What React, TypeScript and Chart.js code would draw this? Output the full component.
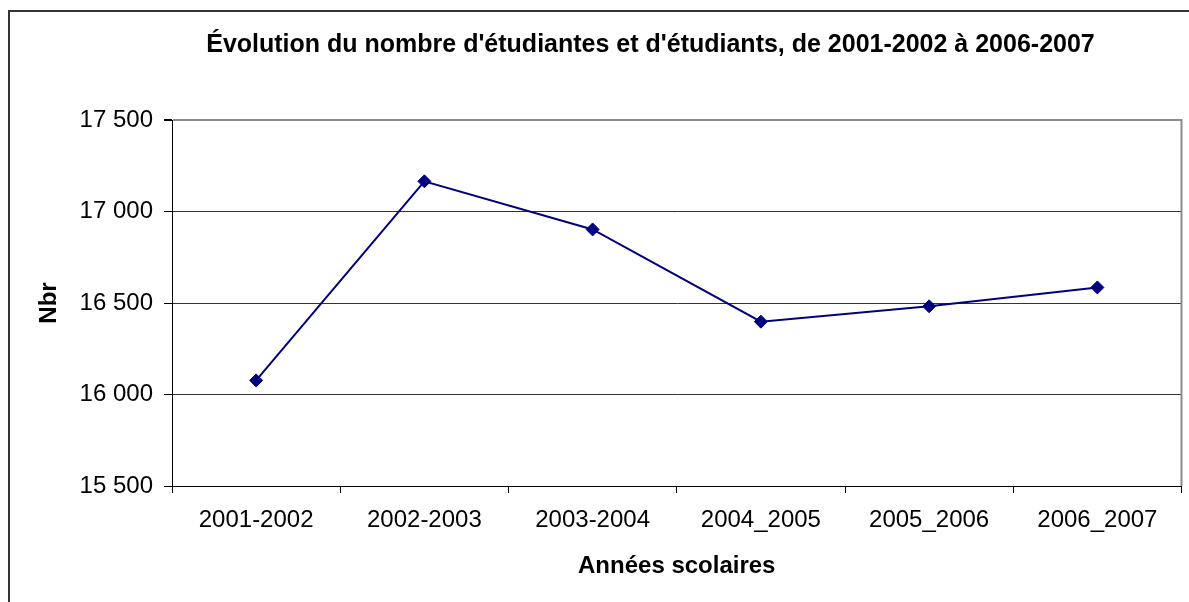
import React, { useEffect, useRef } from "react";
import { Chart, registerables } from "chart.js";

Chart.register(...registerables);

const categories = ["2001-2002", "2002-2003", "2003-2004", "2004_2005", "2005_2006", "2006_2007"];
const students = [16077, 17165, 16902, 16398, 16482, 16585];
const yMin = 15500;
const yMax = 17500;
const yStep = 500;
const titleText = "Évolution du nombre d'étudiantes et d'étudiants, de 2001-2002 à 2006-2007";
const xTitleText = "Années scolaires";
const yTitleText = "Nbr";

const FONT = "'Liberation Sans', Arial, sans-serif";
const W = 1189;
const H = 602;

const fmt = (v: number) => String(v).replace(/\B(?=(\d{3})+(?!\d))/g, " ");

const framePlugin = {
  id: "frame",
  beforeDatasetsDraw(chart: any) {
    const { ctx, chartArea: a } = chart;
    ctx.save();
    ctx.strokeStyle = "#8c8c8c";
    ctx.lineWidth = 2;
    ctx.beginPath();
    ctx.moveTo(a.right, a.top - 1);
    ctx.lineTo(a.right, a.bottom);
    ctx.stroke();
    ctx.restore();
  },
  afterDraw(chart: any) {
    const { ctx } = chart;
    ctx.save();
    ctx.font = `bold 25px ${FONT}`;
    ctx.fillStyle = "#000";
    ctx.textAlign = "center";
    ctx.textBaseline = "middle";
    ctx.fillText(titleText, 650.5, 45);
    ctx.restore();
  },
};

export default function App() {
  const ref = useRef<HTMLCanvasElement | null>(null);

  useEffect(() => {
    if (!ref.current) return;
    const chart = new Chart(ref.current, {
      type: "line",
      data: {
        labels: categories,
        datasets: [
          {
            label: "Nbr",
            data: students,
            borderColor: "#000080",
            backgroundColor: "#000080",
            borderWidth: 2,
            pointStyle: "rectRot",
            pointRadius: 6.5,
            pointBorderWidth: 1,
            pointBackgroundColor: "#000080",
            pointBorderColor: "#000080",
            tension: 0,
            fill: false,
          },
        ],
      },
      options: {
        responsive: false,
        animation: false,
        devicePixelRatio: 1,
        layout: { padding: { left: 0, right: 5, top: 120, bottom: 0 } },
        plugins: {
          legend: { display: false },
          title: { display: false },
          tooltip: { enabled: false },
        },
        scales: {
          x: {
            type: "category",
            offset: true,
            afterFit: (s: any) => {
              s.height = 116;
            },
            grid: {
              display: true,
              offset: true,
              drawOnChartArea: false,
              drawTicks: true,
              tickLength: 7,
              tickColor: "#000",
              color: "#000",
            },
            border: { display: true, color: "#000", width: 1 },
            ticks: {
              color: "#000",
              font: { family: FONT, size: 24 },
              padding: 13,
              maxRotation: 0,
              autoSkip: false,
            },
            title: {
              display: true,
              text: xTitleText,
              color: "#000",
              font: { family: FONT, size: 24, weight: "bold" },
              padding: { top: 0, bottom: 21 },
            },
          },
          y: {
            min: yMin,
            max: yMax,
            afterFit: (s: any) => {
              s.width = 172;
            },
            grid: {
              color: (c: any) => (c.tick && c.tick.value === yMax ? "#8c8c8c" : "#333333"),
              lineWidth: (c: any) => (c.tick && c.tick.value === yMax ? 2 : 1),
              tickLength: 8,
              tickColor: "#000",
              drawTicks: true,
            },
            border: { display: true, color: "#000", width: 1 },
            ticks: {
              stepSize: yStep,
              color: "#000",
              font: { family: FONT, size: 24 },
              padding: 11,
              callback: (v: any) => fmt(Number(v)),
            },
            title: {
              display: true,
              text: yTitleText,
              color: "#000",
              font: { family: FONT, size: 24, weight: "bold" },
              padding: { top: 35, bottom: 0 },
            },
          },
        },
      },
      plugins: [framePlugin],
    });
    return () => chart.destroy();
  }, []);

  return (
    <div
      style={{
        position: "fixed",
        left: 0,
        top: 0,
        width: W,
        height: H,
        overflow: "hidden",
        background: "#fff",
      }}
    >
      <div
        style={{
          position: "absolute",
          left: 8,
          top: 10,
          width: 1400,
          height: 800,
          borderLeft: "2px solid #333",
          borderTop: "2px solid #333",
          boxSizing: "border-box",
        }}
      />
      <canvas
        ref={ref}
        width={W}
        height={H}
        style={{ position: "absolute", left: 0, top: 0, width: W, height: H }}
      />
    </div>
  );
}
